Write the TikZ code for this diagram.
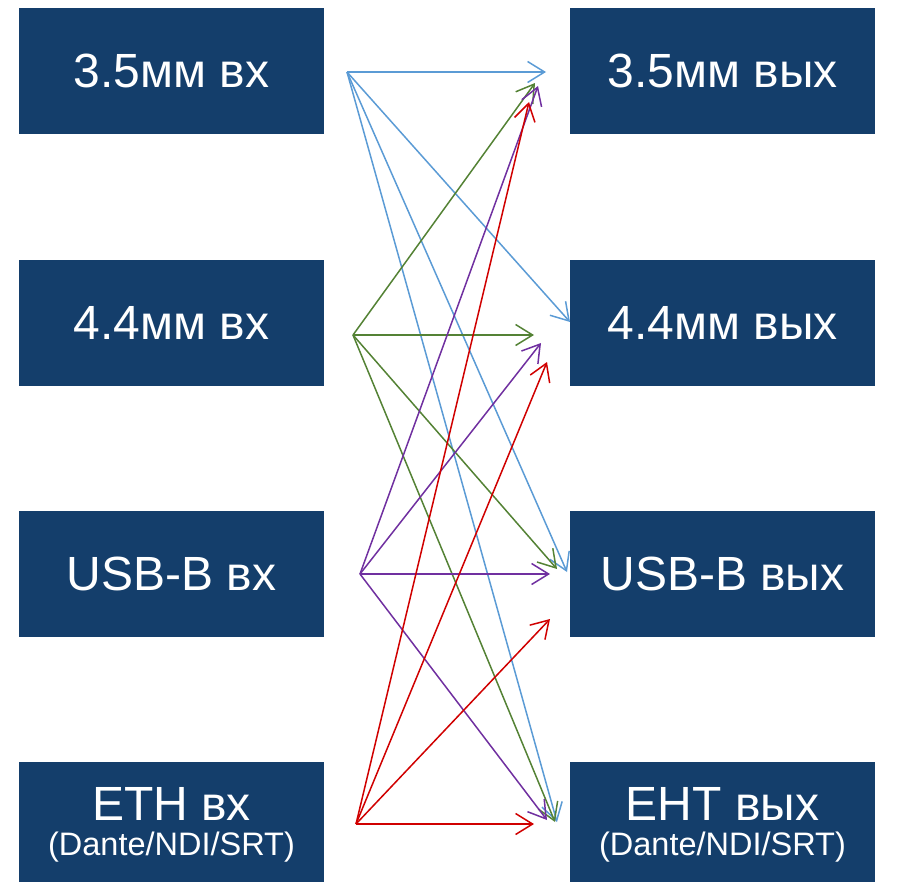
\documentclass[tikz,border=0pt]{standalone}
\usepackage{fontspec}
\setmainfont{Liberation Sans}
\usetikzlibrary{arrows.meta}
\definecolor{boxblue}{RGB}{20,62,107}
\definecolor{lblue}{RGB}{91,155,213}
\definecolor{lgreen}{RGB}{84,130,53}
\definecolor{lpurple}{RGB}{112,48,160}
\definecolor{lred}{RGB}{208,0,0}
\begin{document}
\begin{tikzpicture}[x=1pt,y=-1pt,
  box/.style={fill=boxblue, minimum width=305pt, minimum height=126pt, inner sep=0pt, text=white, font=\fontsize{48}{57}\selectfont},
  maintext/.style={text=white, font=\fontsize{48}{57}\selectfont, inner sep=0pt, anchor=base},
  subtext/.style={text=white, font=\fontsize{32.5}{39}\selectfont, inner sep=0pt, anchor=base},
  link/.style={line width=1.5pt, -{Straight Barb[length=17pt,width=21pt]}},
]
\useasboundingbox (0,0) rectangle (902,881);

% input boxes
\node[box] (in1) at (171.5,71) {3.5мм вх};
\node[box] (in2) at (171.5,322.5) {4.4мм вх};
\node[box] (in3) at (171.5,573.5) {USB-B вх};
\node[box] (in4) at (171.5,825) {};
\node[maintext] (in4a) at (171.5,820) {ETH вх};
\node[subtext] (in4b) at (171.5,855) {(Dante/NDI/SRT)};

% output boxes
\node[box] (out1) at (722.5,71) {3.5мм вых};
\node[box] (out2) at (722.5,322.5) {4.4мм вых};
\node[box] (out3) at (722.5,573.5) {USB-B вых};
\node[box] (out4) at (722.5,825) {};
\node[maintext] (out4a) at (722.5,820) {EHT вых};
\node[subtext] (out4b) at (722.5,855) {(Dante/NDI/SRT)};

% sources
\coordinate (s1) at (347,72);
\coordinate (s2) at (353,335);
\coordinate (s3) at (360,574);
\coordinate (s4) at (356,824);

% tips
\coordinate (b1) at (546,72);  \coordinate (b2) at (570,322);
\coordinate (b3) at (567,572); \coordinate (b4) at (557,822);
\coordinate (g1) at (535,83);  \coordinate (g2) at (534,335);
\coordinate (g3) at (557,569); \coordinate (g4) at (555,822);
\coordinate (p1) at (538,86);  \coordinate (p2) at (541,343);
\coordinate (p3) at (550,574); \coordinate (p4) at (547,820);
\coordinate (r1) at (529,102); \coordinate (r2) at (547,362);
\coordinate (r3) at (550,619); \coordinate (r4) at (534,824);

\foreach \t in {b1,b2,b3,b4} \draw[link, lblue] (s1) -- (\t);
\foreach \t in {g1,g2,g3,g4} \draw[link, lgreen] (s2) -- (\t);
\foreach \t in {p1,p2,p3,p4} \draw[link, lpurple] (s3) -- (\t);
\foreach \t in {r1,r2,r3,r4} \draw[link, lred] (s4) -- (\t);
\end{tikzpicture}
\end{document}
